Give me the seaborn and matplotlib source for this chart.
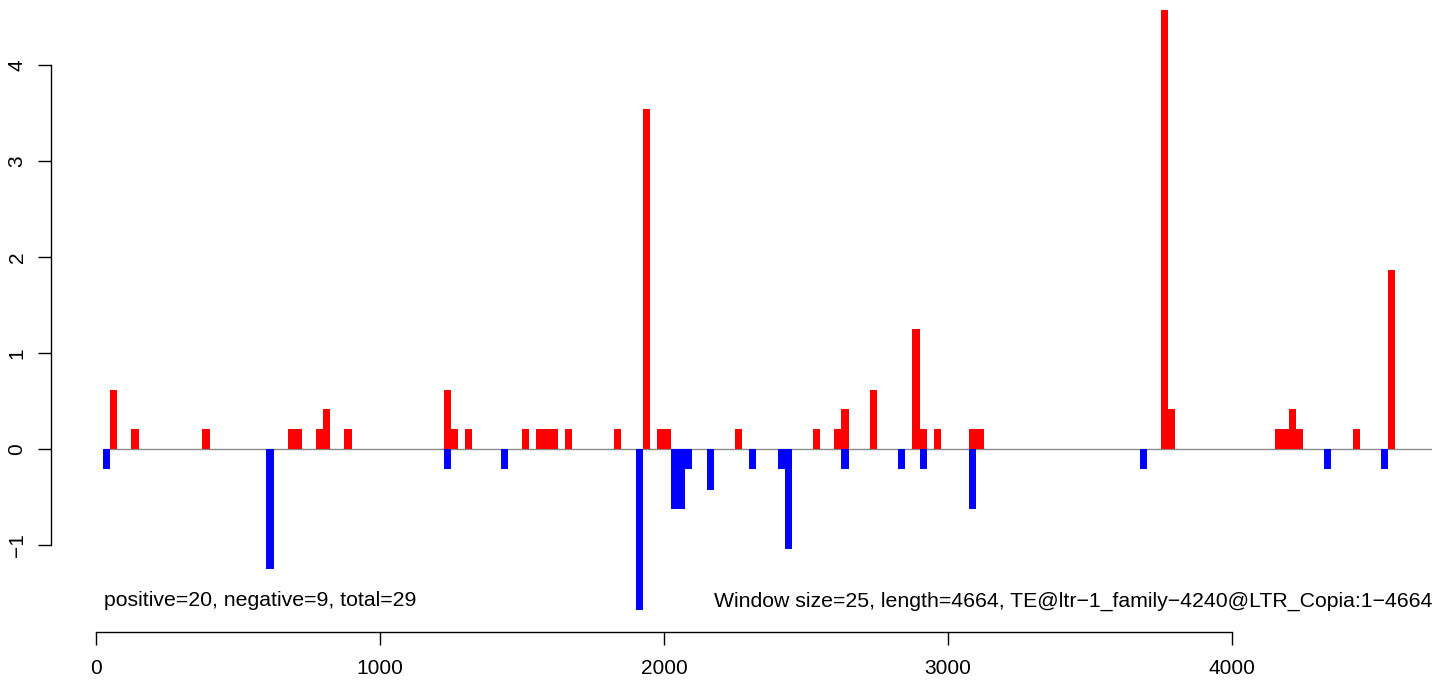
import matplotlib
matplotlib.use("Agg")
import matplotlib.pyplot as plt
import seaborn as sns
import pandas as pd
import numpy as np

# ---- data ----
window = 25
pos_start = [50, 125, 375, 675, 700, 775, 800, 875, 1225, 1250, 1300, 1500, 1550, 1575,
             1600, 1650, 1825, 1925, 1975, 2000, 2250, 2525, 2600, 2625, 2725, 2875,
             2900, 2950, 3075, 3100, 3750, 3775, 4150, 4175, 4200, 4225, 4425, 4550]
pos_value = [0.62, 0.21, 0.21, 0.21, 0.21, 0.21, 0.42, 0.21, 0.62, 0.21, 0.21, 0.21, 0.21, 0.21,
             0.21, 0.21, 0.21, 3.54, 0.21, 0.21, 0.21, 0.21, 0.21, 0.42, 0.62, 1.25,
             0.21, 0.21, 0.21, 0.21, 4.58, 0.42, 0.21, 0.21, 0.42, 0.21, 0.21, 1.87]
neg_start = [25, 600, 1225, 1425, 1900, 2025, 2050, 2075, 2150, 2300, 2400, 2425, 2625,
             2825, 2900, 3075, 3675, 4325, 4525]
neg_value = [-0.21, -1.25, -0.21, -0.21, -1.67, -0.62, -0.62, -0.21, -0.42, -0.21, -0.21, -1.04, -0.21,
             -0.21, -0.21, -0.62, -0.21, -0.21, -0.21]
x_ticks = [0, 1000, 2000, 3000, 4000]
y_ticks = [-1, 0, 1, 2, 3, 4]
left_text = "positive=20, negative=9, total=29"
right_text = "Window size=25, length=4664, TE@ltr\u22121_family\u22124240@LTR_Copia:1\u22124664"

pos_df = pd.DataFrame({"x": np.array(pos_start) + window / 2, "v": pos_value})
neg_df = pd.DataFrame({"x": np.array(neg_start) + window / 2, "v": neg_value})

sns.set_style("white")
plt.rcParams["font.family"] = ["Liberation Sans", "DejaVu Sans"]
plt.rcParams["text.color"] = "black"
plt.rcParams["xtick.color"] = "black"
plt.rcParams["ytick.color"] = "black"

W, H = 1444, 680
fig = plt.figure(figsize=(W / 100, H / 100), dpi=100)
ax_l, ax_r, ax_b, ax_t = 50.7, 1432.0, 632.0, 0.0
ax = fig.add_axes([ax_l / W, (H - ax_b) / H, (ax_r - ax_l) / W, (ax_b - ax_t) / H])

# zero line
ax.hlines(0, 25, 4705, color="#8c8c8c", lw=1.0, zorder=1)

sns.barplot(data=pos_df, x="x", y="v", native_scale=True, width=1.0, color="#FF0000",
            saturation=1, errorbar=None, linewidth=0, ax=ax, zorder=2)
sns.barplot(data=neg_df, x="x", y="v", native_scale=True, width=1.0, color="#0000FF",
            saturation=1, errorbar=None, linewidth=0, ax=ax, zorder=2)

x0_px, px_per_unit_x = 96.0, 0.284
y0_px, px_per_unit_y = 449.3, 96.0
ax.set_xlim((ax_l - x0_px) / px_per_unit_x, (ax_r - x0_px) / px_per_unit_x)
ax.set_ylim((y0_px - ax_b) / px_per_unit_y, (y0_px - ax_t) / px_per_unit_y)

ax.set_xlabel("")
ax.set_ylabel("")
for s in ["top", "right"]:
    ax.spines[s].set_visible(False)
for s in ["left", "bottom"]:
    ax.spines[s].set_color("black")
    ax.spines[s].set_linewidth(1.0)
ax.spines["left"].set_bounds(-1, 4)
ax.spines["bottom"].set_bounds(0, 4000)

ax.set_xticks(x_ticks)
ax.set_xticklabels([str(t) for t in x_ticks])
ax.set_yticks(y_ticks)
ax.set_yticklabels([("\u2212" + str(-t)) if t < 0 else str(t) for t in y_ticks],
                   rotation=90, va="center")
ax.tick_params(axis="both", direction="out", length=9.4, width=1.0, color="black",
               labelcolor="black", labelsize=15, bottom=True, left=True)
ax.tick_params(axis="x", pad=10)
ax.tick_params(axis="y", pad=8)

ax.text((104 - x0_px) / px_per_unit_x, -1.58, left_text, ha="left", va="center", fontsize=15.3)
ax.text(1.0, -1.58, right_text, ha="right", va="center", fontsize=15.3,
        transform=ax.get_yaxis_transform())

fig.savefig("out.png", dpi=100)
